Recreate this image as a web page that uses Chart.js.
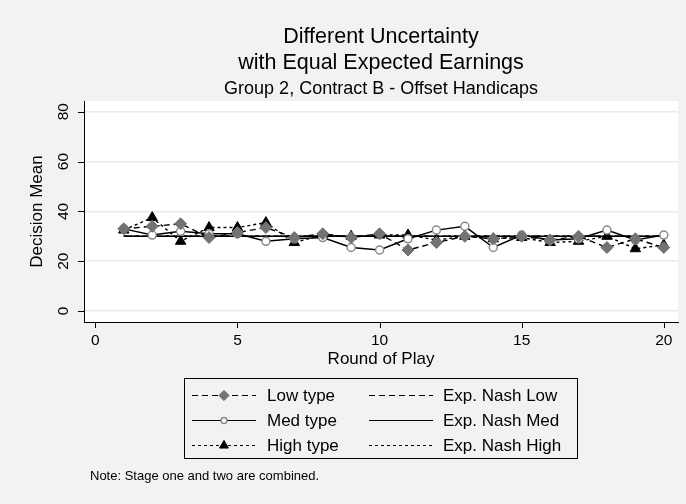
<!DOCTYPE html>
<html>
<head>
<meta charset="utf-8">
<script src="https://cdn.jsdelivr.net/npm/chart.js@4.4.1/dist/chart.umd.min.js"></script>
<style>
body{margin:0;background:#f2f2f2}
#wrap{width:686px;height:504px}
</style>
</head>
<body>
<div id="wrap"><canvas id="chart" width="686" height="504"></canvas></div>
<script>
// values
const rounds=[1,2,3,4,5,6,7,8,9,10,11,12,13,14,15,16,17,18,19,20]
const lowType=[33,34,35,29.5,31.5,33.5,29.5,31,29.5,31,24.5,27.5,30,29,30,28.5,30,25.5,29,25.5]
const medType=[33,30.5,32,31,31,28,29,29.5,25.5,24.5,29,32.5,34,25.5,30.5,28.5,29,32.5,28.5,30.5]
const highType=[32.5,37.5,28,33.5,33.5,35.5,27.5,30.5,30,30.5,30.5,28.5,30,29,29.5,27.5,28,30,25,26.5]
const nashLow=[30,30,30,30,30,30,30,30,30,30,30,30,30,30,30,30,30,30,30,30]
const nashMed=[30,30,30,30,30,30,30,30,30,30,30,30,30,30,30,30,30,30,30,30]
const nashHigh=[30,30,30,30,30,30,30,30,30,30,30,30,30,30,30,30,30,30,30,30]
const xTicks=[0,5,10,15,20]
const yTicks=[0,20,40,60,80]

const FONT="'Liberation Sans', Arial, Helvetica, sans-serif"

function pts(vals){
return rounds.map((r,i)=>({x:r,y:vals[i]}))
}

const datasets=[
{label:'Low type',data:pts(lowType),borderColor:'#000',borderWidth:1.4,borderDash:[6,4],
pointStyle:'rectRot',pointRadius:6,pointBackgroundColor:'#737373',pointBorderColor:'#737373',pointBorderWidth:1},
{label:'Med type',data:pts(medType),borderColor:'#000',borderWidth:1.4,borderDash:[],
pointStyle:'circle',pointRadius:4,pointBackgroundColor:'#fff',pointBorderColor:'#8a8a8a',pointBorderWidth:1.5},
{label:'High type',data:pts(highType),borderColor:'#000',borderWidth:1.4,borderDash:[3,3],
pointStyle:'triangle',pointRadius:6,pointBackgroundColor:'#000',pointBorderColor:'#000',pointBorderWidth:1},
{label:'Exp. Nash Low',data:pts(nashLow),borderColor:'#000',borderWidth:1.6,borderDash:[6,4],pointRadius:0},
{label:'Exp. Nash Med',data:pts(nashMed),borderColor:'#000',borderWidth:1.6,borderDash:[],pointRadius:0},
{label:'Exp. Nash High',data:pts(nashHigh),borderColor:'#000',borderWidth:1.6,borderDash:[3,3],pointRadius:0}
]

// backgrounds, titles, ticks, legend box and note
const decor={
id:'decor',
beforeDraw(chart){
const c=chart.ctx,a=chart.chartArea
c.save()
c.fillStyle='#f2f2f2'
c.fillRect(0,0,chart.width,chart.height)
c.fillStyle='#fff'
c.fillRect(a.left,a.top,a.right-a.left,a.bottom-a.top)
c.restore()
},
afterDraw(chart){
const c=chart.ctx,a=chart.chartArea
const cx=(a.left+a.right)/2
c.save()
c.fillStyle='#000'
c.textAlign='center'
c.textBaseline='middle'
c.font='21.5px '+FONT
c.fillText('Different Uncertainty',cx,37)
c.fillText('with Equal Expected Earnings',cx,63)
c.font='18px '+FONT
c.fillText('Group 2, Contract B - Offset Handicaps',cx,89)

// tick marks and rotated y tick labels
const ys=chart.scales.y,xs=chart.scales.x
c.strokeStyle='#000'
c.lineWidth=1
c.beginPath()
yTicks.forEach(v=>{
const py=Math.round(ys.getPixelForValue(v))+0.5
c.moveTo(a.left-6,py)
c.lineTo(a.left,py)
})
xTicks.forEach(v=>{
const px=Math.round(xs.getPixelForValue(v))+0.5
c.moveTo(px,a.bottom)
c.lineTo(px,a.bottom+6)
})
c.stroke()
c.font='15.5px '+FONT
yTicks.forEach(v=>{
const py=ys.getPixelForValue(v)
c.save()
c.translate(64,py)
c.rotate(-Math.PI/2)
c.fillText(String(v),0,0)
c.restore()
})

// legend
const bx=184,by=378,bw=393,bh=80
c.strokeStyle='#000'
c.lineWidth=1
c.strokeRect(bx+0.5,by+0.5,bw,bh)
const order=[[0,3],[1,4],[2,5]]
const rowY=[395,420,445]
const colX=[192,369]
const textX=[267,443]
c.font='17px '+FONT
c.textAlign='left'
order.forEach((row,ri)=>{
row.forEach((di,ci)=>{
const ds=chart.data.datasets[di]
const y=rowY[ri]
c.save()
c.strokeStyle=ds.borderColor
c.lineWidth=1.2
c.setLineDash(ds.borderDash)
c.beginPath()
c.moveTo(colX[ci],y+0.5)
c.lineTo(colX[ci]+64,y+0.5)
c.stroke()
c.restore()
if(ds.pointRadius>0){
c.save()
c.fillStyle=ds.pointBackgroundColor
c.strokeStyle=ds.pointBorderColor
c.lineWidth=ds.pointBorderWidth
const r=ds.pointStyle==='circle'?3:ds.pointRadius*0.85
Chart.helpers.drawPoint(c,{pointStyle:ds.pointStyle,radius:r,rotation:0,borderWidth:ds.pointBorderWidth},colX[ci]+32,y+0.5)
c.restore()
}
c.fillStyle='#000'
c.fillText(ds.label,textX[ci],y+1)
})
})
c.font='13px '+FONT
c.fillText('Note: Stage one and two are combined.',90,476)
c.restore()
}
}

new Chart(document.getElementById('chart'),{
type:'line',
data:{datasets:datasets},
options:{
responsive:false,
animation:false,
layout:{padding:{top:101,left:0,right:8,bottom:132}},
plugins:{legend:{display:false},title:{display:false},tooltip:{enabled:false}},
scales:{
x:{type:'linear',min:-0.4,max:20.5,
afterBuildTicks(s){s.ticks=xTicks.map(v=>({value:v}))},
afterFit(s){s.height=50},
grid:{display:false},
border:{color:'#000',width:1},
ticks:{color:'#000',font:{family:FONT,size:15.5},padding:1,maxRotation:0},
title:{display:true,text:'Round of Play',color:'#000',font:{family:FONT,size:17},padding:{top:0,bottom:2}}
},
y:{type:'linear',min:-4.4,max:84.3,
afterBuildTicks(s){s.ticks=yTicks.map(v=>({value:v}))},
afterFit(s){s.width=84},
grid:{color:'#eaeaea',lineWidth:1.5,drawTicks:false},
border:{color:'#000',width:1},
ticks:{display:false},
title:{display:true,text:'Decision Mean',color:'#000',font:{family:FONT,size:17},padding:{top:27,bottom:0}}
}
}
},
plugins:[decor]
})
</script>
</body>
</html>
